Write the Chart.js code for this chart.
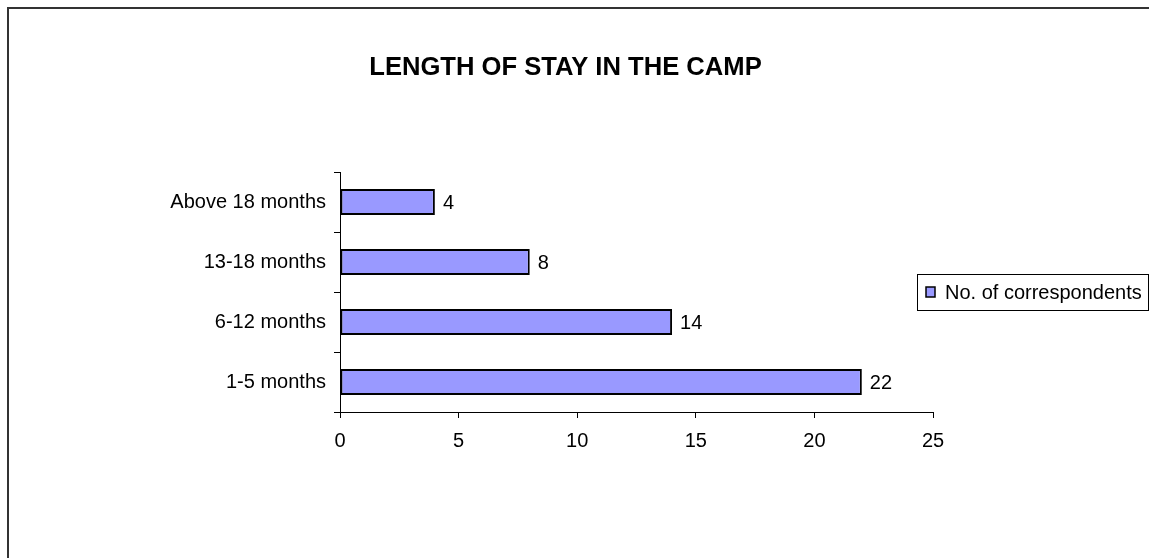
<!DOCTYPE html>
<html lang="en">
<head>
    <meta charset="UTF-8">
    <title>Length of Stay in the Camp</title>
    <script src="https://cdn.jsdelivr.net/npm/chart.js"></script>
    <style>
        html, body { margin: 0; padding: 0; background: #fff; overflow: hidden; }
        /* outer chart frame, only the top and left edges fall inside the window */
        #frame {
            position: absolute; left: 7px; top: 7px;
            width: 1300px; height: 700px;
            border: 2px solid #333;
        }
        #wrap { position: absolute; left: 0; top: 0; width: 1149px; height: 558px; }
    </style>
</head>
<body>
    <div id="frame"></div>
    <div id="wrap"><canvas id="stayChart" width="1149" height="558"></canvas></div>

    <script>
        // Data (top to bottom as shown on the axis)
        const stayLabels = ['Above 18 months', '13-18 months', '6-12 months', '1-5 months'];
        const respondents = [4, 8, 14, 22];
        const seriesName = 'No. of correspondents';
        const axisMin = 0;
        const axisMax = 25;
        const axisStep = 5;

        const FONT = 'Liberation Sans, Arial, sans-serif';
        const BAR_FILL = '#9999FF';

        // Writes the value next to the end of each bar
        const valueLabels = {
            id: 'valueLabels',
            afterDatasetsDraw(chart) {
                const ctx = chart.ctx;
                const meta = chart.getDatasetMeta(0);
                const data = chart.data.datasets[0].data;
                ctx.save();
                ctx.font = '20px ' + FONT;
                ctx.fillStyle = '#000';
                ctx.textAlign = 'left';
                ctx.textBaseline = 'middle';
                meta.data.forEach((bar, i) => {
                    ctx.fillText(String(data[i]), bar.x + 8, bar.y + 1);
                });
                ctx.restore();
            }
        };

        // Boxed legend at the right edge, centred on the plot
        const boxedLegend = {
            id: 'boxedLegend',
            afterDraw(chart) {
                const ctx = chart.ctx;
                const ds = chart.data.datasets[0];
                const area = chart.chartArea;
                ctx.save();
                ctx.font = '20px ' + FONT;
                const textW = ctx.measureText(ds.label).width;
                const h = 36;
                const w = 8 + 10 + 10 + textW + 6;
                const right = chart.width - 1;
                const left = Math.round(right - w);
                const top = Math.round((area.top + area.bottom) / 2 - h / 2);

                ctx.strokeStyle = '#000';
                ctx.lineWidth = 1;
                ctx.strokeRect(left + 0.5, top + 0.5, right - left, h);

                // swatch
                const sy = top + h / 2 - 5;
                ctx.fillStyle = ds.backgroundColor;
                ctx.fillRect(left + 9, sy, 9, 10);
                ctx.lineWidth = 1.5;
                ctx.strokeRect(left + 9, sy, 9, 10);

                ctx.fillStyle = '#000';
                ctx.textAlign = 'left';
                ctx.textBaseline = 'middle';
                ctx.fillText(ds.label, left + 28, top + h / 2 + 1);
                ctx.restore();
            }
        };

        const ctx = document.getElementById('stayChart').getContext('2d');
        const stayChart = new Chart(ctx, {
            type: 'bar',
            data: {
                labels: stayLabels,
                datasets: [{
                    label: seriesName,
                    data: respondents,
                    backgroundColor: BAR_FILL,
                    borderColor: '#000',
                    borderWidth: 2,
                    borderSkipped: false,
                    categoryPercentage: 1,
                    barPercentage: 0.43
                }]
            },
            options: {
                indexAxis: 'y',
                responsive: false,
                animation: false,
                layout: { padding: { left: 0, right: 18, top: 0, bottom: 0 } },
                plugins: {
                    legend: { display: false },
                    tooltip: { enabled: false },
                    title: {
                        display: true,
                        text: 'LENGTH OF STAY IN THE CAMP',
                        color: '#000',
                        font: { family: FONT, size: 25.6, weight: 'bold', lineHeight: '30px' },
                        padding: { top: 53, bottom: 89 }
                    }
                },
                scales: {
                    y: {
                        type: 'category',
                        position: 'left',
                        grid: { drawOnChartArea: false, tickLength: 6, color: '#000', offset: true },
                        border: { color: '#000', width: 1 },
                        ticks: { color: '#000', font: { family: FONT, size: 20 }, padding: 8 },
                        afterFit: (scale) => { scale.width = 340; }
                    },
                    x: {
                        type: 'linear',
                        min: axisMin,
                        max: axisMax,
                        grid: { drawOnChartArea: false, tickLength: 6, color: '#000' },
                        border: { color: '#000', width: 1 },
                        ticks: { stepSize: axisStep, color: '#000', font: { family: FONT, size: 20 }, padding: 11 },
                        afterFit: (scale) => { scale.height = 146; }
                    },
                    // empty column on the right so the plot ends where the legend begins
                    gutter: {
                        type: 'linear',
                        position: 'right',
                        grid: { display: false },
                        border: { display: false },
                        ticks: { display: false },
                        afterFit: (scale) => { scale.width = 198; }
                    }
                }
            },
            plugins: [valueLabels, boxedLegend]
        });
    </script>
</body>
</html>
